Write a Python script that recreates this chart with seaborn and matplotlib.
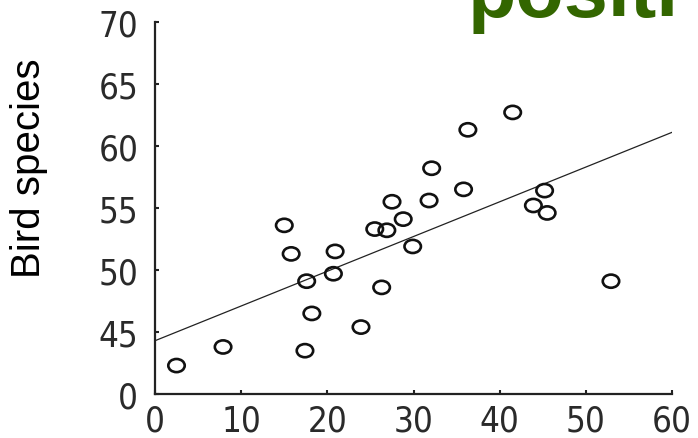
import numpy as np
import pandas as pd
import matplotlib
matplotlib.use('Agg')
import matplotlib.pyplot as plt
from matplotlib.path import Path
from matplotlib.transforms import Affine2D
import seaborn as sns

# --- data (y drawn on a broken axis: 40 is labelled 0) ---
habitat_x = [2.5, 7.9, 15.0, 15.8, 17.6, 18.2, 17.4, 20.9, 20.7, 23.9, 25.5, 26.9, 26.3,
             27.5, 28.8, 29.9, 31.8, 32.1, 35.8, 36.3, 41.5, 45.2, 43.9, 45.5, 52.9]
bird_species = [42.3, 43.8, 53.6, 51.3, 49.1, 46.5, 43.5, 51.5, 49.7, 45.4, 53.3, 53.2, 48.6,
                55.5, 54.1, 51.9, 55.6, 58.2, 56.5, 61.3, 62.7, 56.4, 55.2, 54.6, 49.1]
fit_x = [0, 60]
fit_y = [44.3, 61.1]
x_ticks = [0, 10, 20, 30, 40, 50, 60]
y_ticks = [40, 45, 50, 55, 60, 65, 70]
y_tick_labels = ['0', '45', '50', '55', '60', '65', '70']

df = pd.DataFrame({'x': habitat_x, 'y': bird_species})
fit = pd.DataFrame({'x': fit_x, 'y': fit_y})

sns.set_style('ticks')
plt.rcParams['font.family'] = ['Liberation Sans', 'DejaVu Sans']

fig = plt.figure(figsize=(6.98, 4.39), dpi=100)
ax = fig.add_axes([0.222, 0.100, 0.741, 0.848])

# slightly flattened open circle
ellipse = Path.unit_circle().transformed(Affine2D().scale(1.25, 1.0))

sns.lineplot(data=fit, x='x', y='y', ax=ax, color='#222222', lw=0.9)
sns.scatterplot(data=df, x='x', y='y', ax=ax, marker=ellipse, s=140,
                facecolor='none', edgecolor='#111111', linewidth=1.9, zorder=3)

ax.set_xlim(0, 60)
ax.set_ylim(40, 70)
ax.set_xticks(x_ticks)
ax.set_yticks(y_ticks)
ax.set_yticklabels(y_tick_labels)
ax.set_xlabel('')
ax.set_ylabel('')
for s in ['top', 'right']:
    ax.spines[s].set_visible(False)
for s in ['left', 'bottom']:
    ax.spines[s].set_linewidth(1.6)
    ax.spines[s].set_color('#222222')
ax.tick_params(direction='in', length=3, width=1.5, color='#222222',
               labelsize=25, labelcolor='#2a2a2a')
ax.tick_params(axis='y', pad=12)
ax.tick_params(axis='x', pad=7)
for lab in ax.get_xticklabels() + ax.get_yticklabels():
    lab.set_family('DejaVu Sans')
    lab.set_stretch('condensed')

fig.text(0.042, 0.617, 'Bird species', rotation=90, ha='center', va='center',
         fontsize=29, color='black')
fig.text(0.670, 0.961, 'positi', ha='left', va='baseline', fontsize=57,
         fontweight='bold', color='#336600')

fig.savefig('out.png', dpi=100)
